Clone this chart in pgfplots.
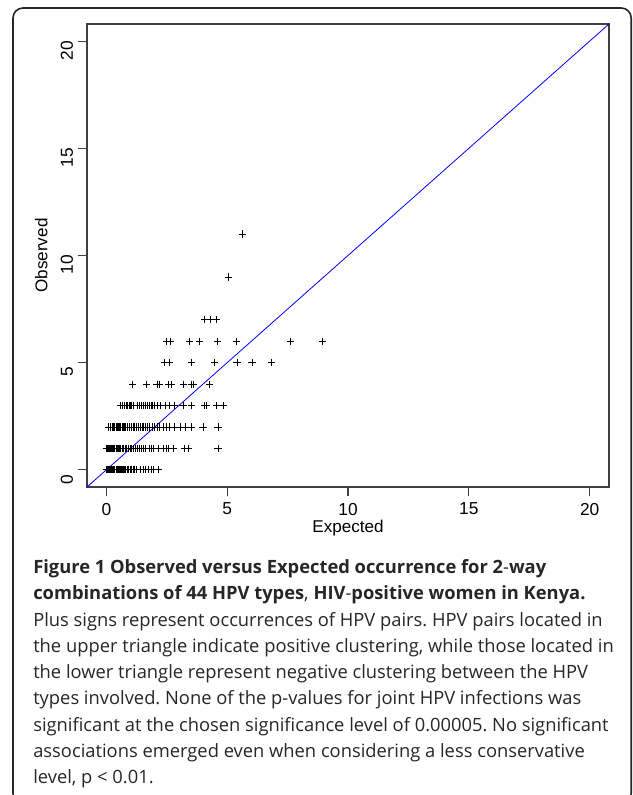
\documentclass[border=0pt]{standalone}
\usepackage{fontspec}
\setmainfont{Liberation Sans}
\newfontfamily\capfont{Open Sans}
\usepackage{pgfplots}
\pgfplotsset{compat=1.18}
\frenchspacing
\begin{document}
\begin{tikzpicture}
% page = 632 x 795 px, 1px = 0.75pt
\useasboundingbox (0,0) rectangle (474pt,596.25pt);
\begin{scope}
\clip (0,0) rectangle (474pt,596.25pt);
\draw[black!85, line width=1.2pt, rounded corners=7.5pt] (9.75pt,-6pt) rectangle (473.4pt,590.25pt);
\end{scope}
\begin{axis}[
  at={(65.25pt,231pt)}, anchor=south west,
  scale only axis, width=391.5pt, height=347.25pt,
  xmin=-0.8, xmax=20.8, ymin=-0.8, ymax=20.8,
  xtick={0,5,...,20}, ytick={0,5,...,20},
  tick align=outside, major tick length=7pt,
  xtick pos=bottom, ytick pos=left,
  axis line style={black!75, line width=0.8pt},
  tick style={black!75, line width=0.8pt},
  /pgf/number format/assume math mode=true,
  ticklabel style={font=\fontsize{13}{15}\selectfont},
  label style={font=\fontsize{12.8}{15}\selectfont},
  yticklabel style={rotate=90, anchor=south, xshift=-7pt},
  xticklabel style={yshift=-1.5pt},
  xlabel={Expected}, ylabel={Observed},
  xlabel style={yshift=3pt},
  ylabel style={yshift=3pt},
  clip=false,
]
\addplot[blue, line width=0.6pt] coordinates {(-0.8,-0.8) (20.8,20.8)};
\addplot[only marks, mark=+, mark size=2.7pt, black, mark options={line width=0.6pt}] table[x=u, y=v] {
u v
0 0
0.03 0
0.06 0
0.09 0
0.12 0
0.15 0
0.18 0
0.21 0
0.25 0
0.28 0
0.32 0
0.35 0
0.4 0
0.44 0
0.48 0
0.52 0
0.57 0
0.62 0
0.66 0
0.7 0
0.75 0
0.8 0
0.86 0
0.92 0
0.98 0
1.05 0
1.12 0
1.18 0
1.25 0
1.43 0
1.55 0
1.62 0
1.75 0
1.85 0
1.94 0
2.14 0
0 1
0.04 1
0.08 1
0.12 1
0.16 1
0.2 1
0.25 1
0.3 1
0.35 1
0.4 1
0.45 1
0.5 1
0.55 1
0.6 1
0.66 1
0.72 1
0.78 1
0.85 1
0.92 1
1.0 1
1.05 1
1.12 1
1.2 1
1.28 1
1.35 1
1.45 1
1.52 1
1.6 1
1.78 1
1.85 1
1.95 1
2.14 1
2.38 1
2.48 1
2.58 1
2.79 1
3.25 1
3.38 1
4.62 1
0.1 2
0.18 2
0.25 2
0.3 2
0.35 2
0.4 2
0.45 2
0.5 2
0.55 2
0.6 2
0.65 2
0.7 2
0.75 2
0.8 2
0.88 2
0.95 2
1.02 2
1.1 2
1.18 2
1.25 2
1.32 2
1.4 2
1.48 2
1.55 2
1.62 2
1.7 2
1.8 2
1.9 2
2.0 2
2.1 2
2.2 2
2.35 2
2.5 2
2.62 2
2.83 2
3.08 2
3.28 2
3.52 2
4.0 2
4.62 2
0.57 3
0.66 3
0.75 3
0.82 3
0.88 3
0.95 3
1.0 3
1.03 3
1.1 3
1.28 3
1.38 3
1.45 3
1.55 3
1.62 3
1.7 3
1.78 3
1.85 3
1.92 3
1.98 3
2.1 3
2.25 3
2.45 3
2.62 3
2.8 3
3.17 3
3.52 3
4.07 3
4.13 3
4.56 3
4.83 3
1.09 4
1.66 4
2.1 4
2.21 4
2.56 4
2.7 4
3.18 4
3.52 4
3.62 4
4.28 4
2.42 5
2.59 5
3.52 5
4.46 5
5.41 5
6.03 5
6.83 5
2.49 6
2.66 6
3.45 6
3.87 6
4.6 6
5.38 6
7.62 6
8.96 6
4.07 7
4.31 7
4.56 7
5.04 9
5.62 11
};
\end{axis}
\node[anchor=north west, inner sep=0pt, align=left, text=black!85,
  font=\capfont\fontsize{13.75}{19.7}\selectfont] at (24.75pt,176.75pt) {%
{\bfseries Figure 1 Observed versus Expected occurrence for 2}-{\bfseries way}\\
{\bfseries combinations of 44 HPV types}, {\bfseries HIV}-{\bfseries positive women in Kenya.}\\
Plus signs represent occurrences of HPV pairs. HPV pairs located in\\
the upper triangle indicate positive clustering, while those located in\\
the lower triangle represent negative clustering between the HPV\\
types involved. None of the p-values for joint HPV infections was\\
significant at the chosen significance level of 0.00005. No significant\\
associations emerged even when considering a less conservative\\
level, p < 0.01.};
\end{tikzpicture}
\end{document}
